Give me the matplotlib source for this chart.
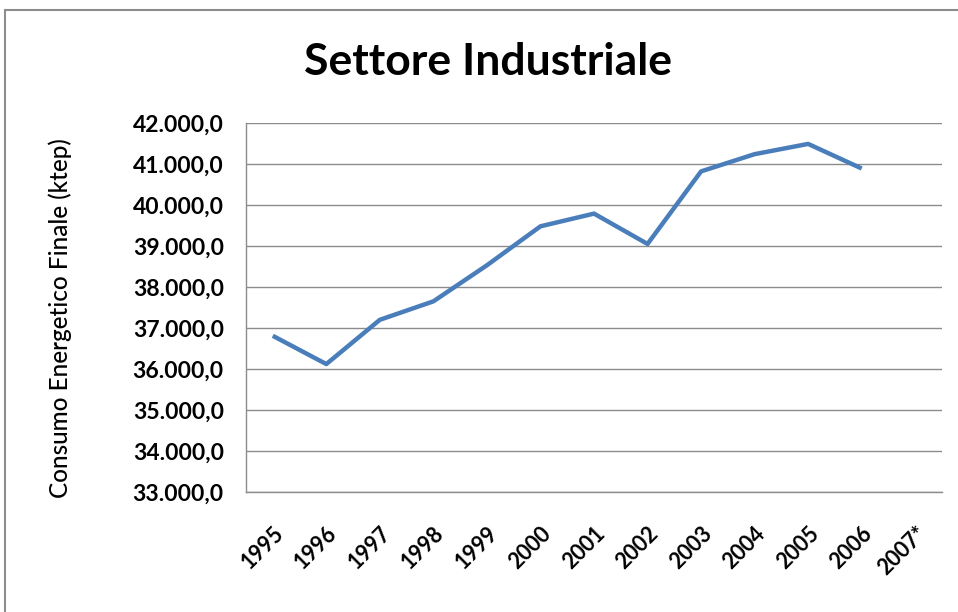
import matplotlib.pyplot as plt
from matplotlib.patches import Rectangle
from matplotlib.ticker import FuncFormatter

years = ["1995", "1996", "1997", "1998", "1999", "2000", "2001",
         "2002", "2003", "2004", "2005", "2006", "2007*"]
consumo = [36810, 36120, 37200, 37650, 38530, 39480, 39790,
           39050, 40820, 41240, 41490, 40890]

FONT = "Lato"


def it_format(v, pos):
    # italian number format: 42.000,0
    s = f"{v:,.1f}"
    return s.replace(",", "X").replace(".", ",").replace("X", ".")


def main():
    fig = plt.figure(figsize=(9.58, 6.12), dpi=100)
    fig.patches.append(Rectangle((5 / 958, -0.01), 1.0, 1 - 10 / 612 + 0.01,
                                 transform=fig.transFigure, fill=False,
                                 edgecolor="#8c8c8c", linewidth=1.5))
    ax = fig.add_axes([246 / 958, 1 - 492 / 612, (942 - 246) / 958, (492 - 123) / 612])

    x = list(range(len(consumo)))
    ax.plot(x, consumo, color="#4a7ebb", linewidth=3.2, solid_capstyle="butt")

    ax.set_xlim(-0.5, len(years) - 0.5)
    ax.set_ylim(33000, 42000)
    ax.set_yticks(range(33000, 42001, 1000))
    ax.yaxis.set_major_formatter(FuncFormatter(it_format))
    ax.set_xticks(range(len(years)))
    ax.set_xticklabels(years, rotation=45, ha="right", va="top",
                       rotation_mode="anchor", fontsize=15.5, fontweight="bold",
                       family=FONT)
    for lab in ax.get_yticklabels():
        lab.set_fontsize(16.5)
        lab.set_fontweight("bold")
        lab.set_family(FONT)

    ax.grid(axis="y", color="#8c8c8c", linewidth=1.0)
    ax.set_axisbelow(True)
    for side in ["top", "right"]:
        ax.spines[side].set_visible(False)
    for side in ["left", "bottom"]:
        ax.spines[side].set_color("#8c8c8c")
        ax.spines[side].set_linewidth(1.0)
    ax.tick_params(axis="y", length=0, pad=16)
    ax.tick_params(axis="x", length=0, pad=22)

    # y axis title, placed on the figure
    fig.text(60 / 958, 1 - 318 / 612, "Consumo Energetico Finale (ktep)",
             rotation=90, ha="center", va="center", fontsize=17.5,
             fontweight="medium", family=FONT)
    fig.text(488 / 958, 1 - 62 / 612, "Settore Industriale", ha="center",
             va="center", fontsize=32, fontweight="bold", family=FONT)

    fig.savefig("out.png", dpi=100)


if __name__ == "__main__":
    main()
